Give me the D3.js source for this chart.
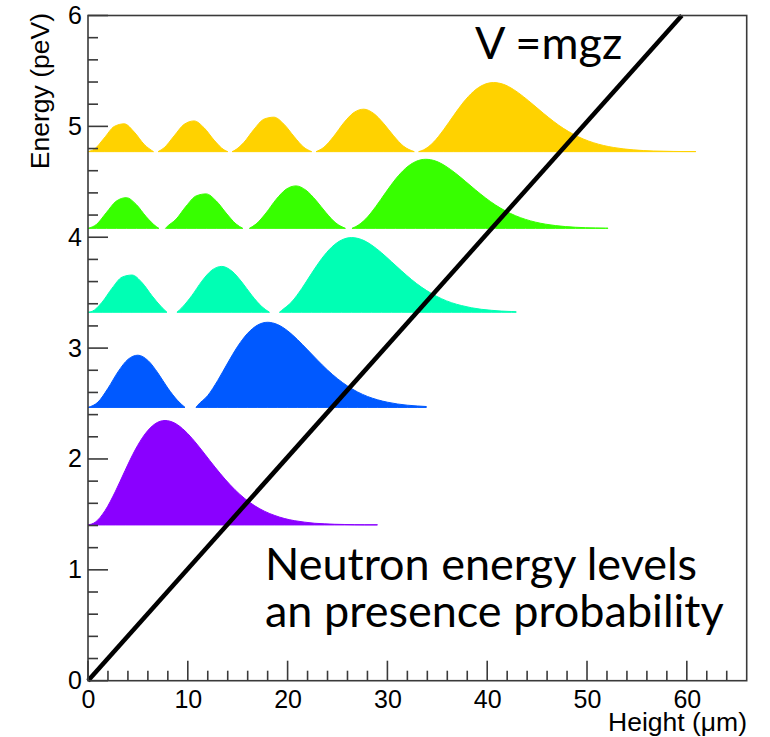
<!DOCTYPE html>
<html>

<head>
    <meta charset="utf-8">
    <style>
        body {
            margin: 0;
            background: #fff;
        }

        svg {
            display: block;
        }

        .tick text {
            font-family: 'Liberation Sans', Arial, sans-serif;
            font-size: 25px;
            fill: #000;
        }

        .axis-title {
            font-family: 'Liberation Sans', Arial, sans-serif;
            font-size: 26.5px;
            fill: #000;
        }

        .note {
            font-family: Lato, 'Open Sans', sans-serif;
            font-size: 45px;
            fill: #000;
        }
    </style>
</head>

<body>
    <svg width="770" height="737"></svg>

    <script src="https://d3js.org/d3.v7.min.js"></script>

    <script>
        // probability density of each level, [height in um, value in peV above the level]
        // null marks the small gap drawn at each node
        let level1 = [[0, 0], [0.72, 0.024], [1.72, 0.131], [2.72, 0.298], [3.72, 0.492], [4.72, 0.676],
            [5.72, 0.821], [6.72, 0.912], [7.72, 0.942], [8.72, 0.917], [9.72, 0.848], [10.72, 0.750],
            [11.72, 0.637], [12.72, 0.522], [13.72, 0.414], [14.72, 0.318], [15.72, 0.237], [16.72, 0.172],
            [17.72, 0.122], [18.72, 0.085], [19.72, 0.057], [20.72, 0.038], [21.72, 0.025], [22.72, 0.015],
            [23.72, 0.010], [24.72, 0.006], [25.72, 0.004], [26.72, 0.002], [27.72, 0.001], [29.0, 0.001]]

        let level2 = [[0, 0], [1, 0.048], [2, 0.172], [3, 0.320], [4, 0.433], [5, 0.471], [6, 0.424],
            [7, 0.311], [8, 0.174], [9, 0.060], [9.72, 0], [10.27, null], [10.82, 0],
            [11, 0.020], [12, 0.107], [13, 0.243], [14, 0.401], [15, 0.551], [16, 0.669], [17, 0.743],
            [18, 0.768], [19, 0.747], [20, 0.691], [21, 0.611], [22, 0.519], [23, 0.426], [24, 0.337],
            [25, 0.259], [26, 0.193], [27, 0.140], [28, 0.099], [29, 0.069], [30, 0.047], [31, 0.031],
            [32, 0.020], [33, 0.013], [33.9, 0.008]]

        let level3 = [[0, 0], [0.41, 0.008], [1.41, 0.091], [2.41, 0.217], [3.41, 0.317], [4.41, 0.336],
            [5.41, 0.268], [6.41, 0.149], [7.41, 0.043], [7.91, 0], [8.41, null], [8.91, 0],
            [9.41, 0.042], [10.41, 0.151], [11.41, 0.281], [12.41, 0.380], [13.41, 0.414], [14.41, 0.372],
            [15.41, 0.273], [16.41, 0.153], [17.41, 0.052], [18.18, 0], [18.68, null], [19.18, 0],
            [19.41, 0.017], [20.41, 0.094], [21.41, 0.213], [22.41, 0.352], [23.41, 0.483], [24.41, 0.587],
            [25.41, 0.652], [26.41, 0.674], [27.41, 0.656], [28.41, 0.607], [29.41, 0.537], [30.41, 0.456],
            [31.41, 0.374], [32.41, 0.296], [33.41, 0.227], [34.41, 0.170], [35.41, 0.123], [36.41, 0.087],
            [37.41, 0.061], [38.41, 0.041], [39.41, 0.027], [40.41, 0.018], [41.41, 0.011], [42.41, 0.007],
            [42.9, 0.005]]

        let level4 = [[0, 0], [0.84, 0.035], [1.84, 0.142], [2.84, 0.246], [3.84, 0.277], [4.84, 0.215],
            [5.84, 0.104], [6.84, 0.016], [7.10, 0], [7.43, null], [7.76, 0],
            [7.84, 0.008], [8.84, 0.084], [9.84, 0.201], [10.84, 0.293], [11.84, 0.311], [12.84, 0.248],
            [13.84, 0.138], [14.84, 0.039], [15.51, 0], [15.84, null], [16.17, 0],
            [16.84, 0.039], [17.84, 0.139], [18.84, 0.260], [19.84, 0.352], [20.84, 0.383], [21.84, 0.344],
            [22.84, 0.253], [23.84, 0.142], [24.84, 0.048], [25.79, 0], [26.12, null], [26.45, 0],
            [26.84, 0.016], [27.84, 0.086], [28.84, 0.197], [29.84, 0.325], [30.84, 0.447], [31.84, 0.543],
            [32.84, 0.603], [33.84, 0.623], [34.84, 0.607], [35.84, 0.561], [36.84, 0.496], [37.84, 0.422],
            [38.84, 0.346], [39.84, 0.274], [40.84, 0.210], [41.84, 0.157], [42.84, 0.114], [43.84, 0.081],
            [44.84, 0.056], [45.84, 0.038], [46.84, 0.025], [47.84, 0.016], [48.84, 0.010], [49.84, 0.006],
            [50.84, 0.004], [51.84, 0.002], [52.1, 0.002]]

        let level5 = [[0, 0], [0.63, 0.022], [1.63, 0.123], [2.63, 0.227], [3.63, 0.251], [4.63, 0.177],
            [5.63, 0.065], [6.56, 0], [6.79, null], [7.02, 0],
            [7.63, 0.035], [8.63, 0.142], [9.63, 0.246], [10.63, 0.277], [11.63, 0.215], [12.63, 0.104],
            [13.63, 0.016], [14.0, 0], [14.22, null], [14.44, 0],
            [14.63, 0.008], [15.63, 0.084], [16.63, 0.201], [17.63, 0.293], [18.63, 0.311], [19.63, 0.248],
            [20.63, 0.138], [21.63, 0.039], [22.41, 0], [22.63, null], [22.85, 0],
            [23.63, 0.039], [24.63, 0.139], [25.63, 0.260], [26.63, 0.352], [27.63, 0.383], [28.63, 0.344],
            [29.63, 0.253], [30.63, 0.142], [31.63, 0.048], [32.69, 0], [32.91, null], [33.13, 0],
            [33.63, 0.016], [34.63, 0.086], [35.63, 0.197], [36.63, 0.325], [37.63, 0.447], [38.63, 0.543],
            [39.63, 0.603], [40.63, 0.623], [41.63, 0.607], [42.63, 0.561], [43.63, 0.496], [44.63, 0.422],
            [45.63, 0.346], [46.63, 0.274], [47.63, 0.210], [48.63, 0.157], [49.63, 0.114], [50.63, 0.081],
            [51.63, 0.056], [52.63, 0.038], [53.63, 0.025], [54.63, 0.016], [55.63, 0.010], [56.63, 0.006],
            [57.63, 0.004], [58.63, 0.002], [59.63, 0.001], [60.9, 0.001]]

        let levelEnergy = [1.405, 2.465, 3.323, 4.080, 4.772]
        let levelColor = ["#8a00ff", "#0059ff", "#00ffb4", "#37ff00", "#ffd200"]

        // V = mgz
        let potentialZ = [0, 59.5]
        let potentialE = [0, 6]

        let xMajor = [0, 10, 20, 30, 40, 50, 60]
        let xMinor = [2, 4, 6, 8, 12, 14, 16, 18, 22, 24, 26, 28, 32, 34, 36, 38, 42, 44, 46, 48, 52, 54, 56, 58, 62, 64]
        let yMajor = [0, 1, 2, 3, 4, 5, 6]
        let yMinor = [0.2, 0.4, 0.6, 0.8, 1.2, 1.4, 1.6, 1.8, 2.2, 2.4, 2.6, 2.8, 3.2, 3.4, 3.6, 3.8,
            4.2, 4.4, 4.6, 4.8, 5.2, 5.4, 5.6, 5.8]

        let plotLeft = 88, plotRight = 746.7, plotTop = 15.5, plotBottom = 680.7

        let svg = d3.select("svg")

        let x = d3.scaleLinear().domain([0, 66]).range([plotLeft, plotRight])
        let y = d3.scaleLinear().domain([0, 6]).range([plotBottom, plotTop])

        let levels = [level1, level2, level3, level4, level5]

        levels.forEach((lv, i) => {
            let area = d3.area()
                .defined(d => d[1] !== null)
                .x(d => x(d[0]))
                .y0(y(levelEnergy[i]))
                .y1(d => y(levelEnergy[i] + d[1]))
                .curve(d3.curveMonotoneX)

            svg.append("path")
                .datum(lv)
                .attr("d", area)
                .style("fill", levelColor[i])
                .style("stroke", levelColor[i])
                .style("stroke-width", 1)
        })

        // potential line
        svg.append("line")
            .attr("x1", x(potentialZ[0]))
            .attr("y1", y(potentialE[0]))
            .attr("x2", x(potentialZ[1]))
            .attr("y2", y(potentialE[1]))
            .style("stroke", "#000")
            .style("stroke-width", 4.5)

        // axes: labels from d3.axis, tick marks drawn inward from the scales
        let axisColor = "#3a3a3a"

        svg.append("g")
            .attr("class", "axis")
            .attr("transform", `translate(${plotLeft},0)`)
            .call(d3.axisLeft(y).tickValues(yMajor).tickSize(0).tickPadding(6).tickFormat(d3.format("d")))

        svg.append("g")
            .attr("class", "axis")
            .attr("transform", `translate(0,${plotBottom})`)
            .call(d3.axisBottom(x).tickValues(xMajor).tickSize(0).tickPadding(10).tickFormat(d3.format("d")))

        svg.selectAll(".axis .domain").remove()

        let ticks = svg.append("g")
            .style("stroke", axisColor)
            .style("stroke-width", 1.6)

        function yTicks(values, len) {
            ticks.selectAll(null)
                .data(values)
                .join("line")
                .attr("x1", plotLeft)
                .attr("x2", plotLeft + len)
                .attr("y1", d => y(d))
                .attr("y2", d => y(d))
        }

        function xTicks(values, len) {
            ticks.selectAll(null)
                .data(values)
                .join("line")
                .attr("x1", d => x(d))
                .attr("x2", d => x(d))
                .attr("y1", plotBottom)
                .attr("y2", plotBottom - len)
        }

        yTicks(yMajor, 20)
        yTicks(yMinor, 10)
        xTicks(xMajor, 20)
        xTicks(xMinor, 10)

        svg.append("rect")
            .attr("x", plotLeft)
            .attr("y", plotTop)
            .attr("width", plotRight - plotLeft)
            .attr("height", plotBottom - plotTop)
            .style("fill", "none")
            .style("stroke", axisColor)
            .style("stroke-width", 1.6)

        // axis titles
        svg.append("text")
            .attr("class", "axis-title")
            .attr("text-anchor", "end")
            .attr("transform", "translate(48.5,13) rotate(-90)")
            .text("Energy (peV)")

        svg.append("text")
            .attr("class", "axis-title")
            .attr("text-anchor", "end")
            .attr("x", 747)
            .attr("y", 731)
            .text("Height (\u03bcm)")

        // annotations
        svg.append("text")
            .attr("class", "note")
            .attr("x", 475)
            .attr("y", 59)
            .text("V =mgz")

        svg.append("text")
            .attr("class", "note")
            .attr("x", 265)
            .attr("y", 580)
            .text("Neutron energy levels")

        svg.append("text")
            .attr("class", "note")
            .attr("x", 265)
            .attr("y", 627)
            .text("an presence probability")
    </script>
</body>

</html>
